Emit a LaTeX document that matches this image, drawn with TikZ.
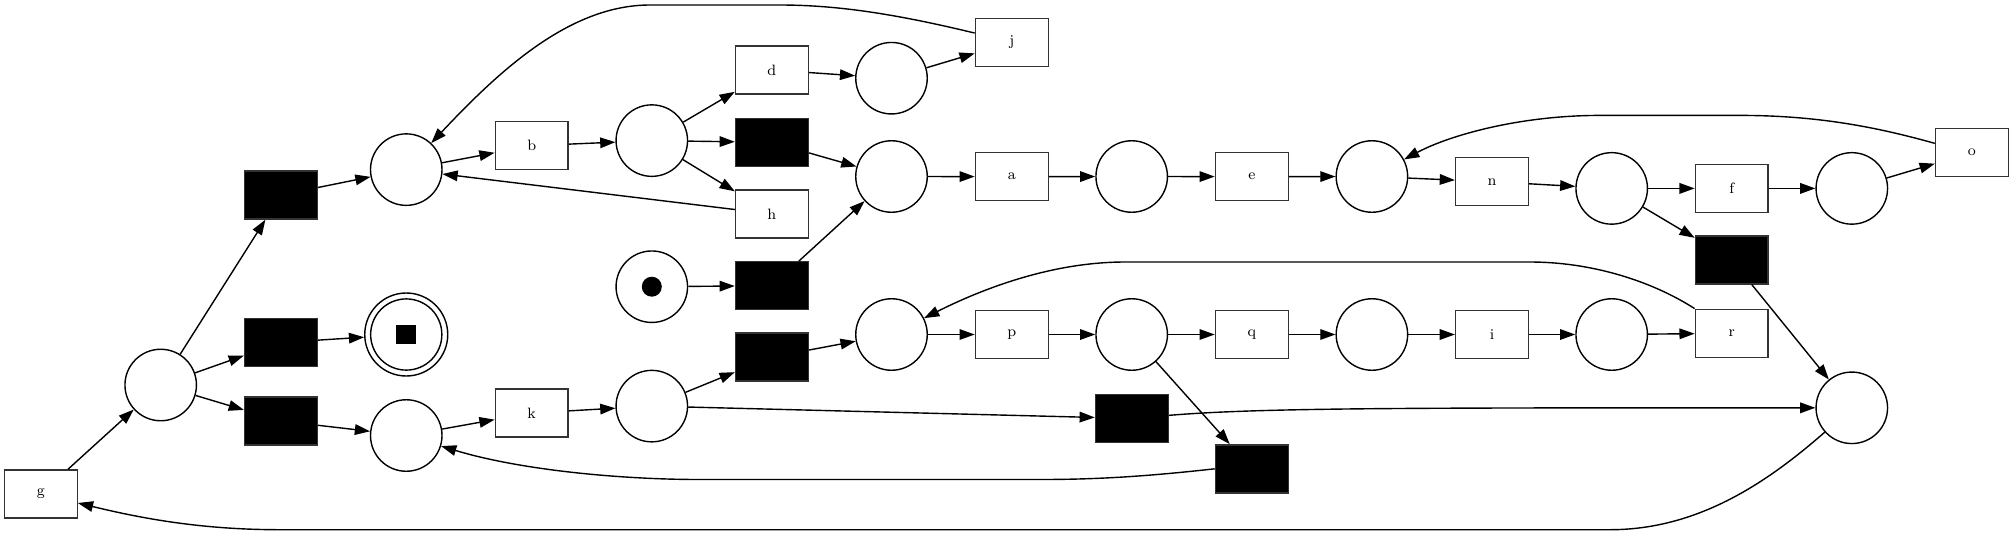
\documentclass[tikz,border=0pt]{standalone}
\usetikzlibrary{shapes.geometric,arrows.meta}
\begin{document}
\begin{tikzpicture}[x=0.5pt,y=-0.5pt,
  every node/.style={font=\fontsize{7.5}{9}\selectfont},
  place/.style={circle,draw,line width=0.7pt,minimum size=35.75pt,inner sep=0pt},
  finalplace/.style={circle,draw,line width=0.7pt,minimum size=41.5pt,inner sep=0pt},
  trans/.style={rectangle,draw=black!80,line width=0.7pt,minimum width=36.4pt,minimum height=24pt,inner sep=0pt},
  tau/.style={trans,fill=black},
  arc/.style={line width=0.7pt,-{Triangle[length=7.6pt,width=5.3pt]}}]
\useasboundingbox (0,0) rectangle (2013,537);
% nodes
\node[trans] (g) at (40.8,494) {g};
\node[place] (P0) at (160.7,385) {};
\node[tau] (t1) at (281,195) {};
\node[tau] (t2) at (281,342.5) {};
\node[tau] (t3) at (281,421) {};
\node[place] (Pb) at (406.25,169.6) {};
\node[finalplace] (Pend) at (406.25,334.5) {};
\draw[line width=0.7pt] (Pend.center) circle [radius=17.8pt];
\fill ([xshift=-4.9pt,yshift=-4.8pt]Pend.center) rectangle ([xshift=4.9pt,yshift=4.8pt]Pend.center);
\node[place] (Pk) at (406.25,435.5) {};
\node[trans] (b) at (531.7,145.7) {b};
\node[trans] (k) at (531.7,413) {k};
\node[place] (Pd) at (651.8,140.6) {};
\node[place] (Ptok) at (651.8,286.7) {};
\fill (Ptok.center) circle [radius=5pt];
\node[place] (Pkk) at (651.8,406.1) {};
\node[trans] (d) at (771.9,70) {d};
\node[tau] (t4) at (771.9,142.3) {};
\node[trans] (h) at (771.9,214) {h};
\node[tau] (t5) at (771.9,285.7) {};
\node[tau] (t6) at (771.9,357) {};
\node[place] (Pj) at (891.5,78.2) {};
\node[place] (Pa) at (891.5,176.5) {};
\node[place] (Pp) at (891.5,334.5) {};
\node[trans] (j) at (1011.8,42.3) {j};
\node[trans] (a) at (1011.8,176.6) {a};
\node[trans] (p) at (1011.8,334.5) {p};
\node[place] (Pae) at (1131.7,176.5) {};
\node[place] (Ppp) at (1131.7,334.5) {};
\node[tau] (t7) at (1131.9,418.4) {};
\node[trans] (e) at (1251.8,176.6) {e};
\node[trans] (q) at (1251.8,334.5) {q};
\node[tau] (t8) at (1251.8,468.8) {};
\node[place] (Pe) at (1371.9,176.5) {};
\node[place] (Pq) at (1371.9,334.5) {};
\node[trans] (n) at (1492,181.7) {n};
\node[trans] (i) at (1492,334.5) {i};
\node[place] (Pn) at (1611.7,188.4) {};
\node[place] (Pi) at (1611.7,334.5) {};
\node[trans] (f) at (1731.75,188.4) {f};
\node[tau] (t9) at (1731.75,259.9) {};
\node[trans] (r) at (1731.75,333.3) {r};
\node[place] (Pf) at (1851.8,188.4) {};
\node[place] (Pbig) at (1851.8,407.8) {};
\node[trans] (o) at (1971.9,152.6) {o};
% arcs
\draw[arc] (g) -- (P0);
\draw[arc] (P0) -- (t1);
\draw[arc] (P0) -- (t2);
\draw[arc] (P0) -- (t3);
\draw[arc] (t1) -- (Pb);
\draw[arc] (t2) -- (Pend);
\draw[arc] (t3) -- (Pk);
\draw[arc] (Pb) -- (b);
\draw[arc] (b) -- (Pd);
\draw[arc] (Pd) -- (d);
\draw[arc] (Pd) -- (t4);
\draw[arc] (Pd) -- (h);
\draw[arc] (h) -- (Pb);
\draw[arc] (d) -- (Pj);
\draw[arc] (Pj) -- (j);
\draw[arc] (j.166) .. controls (900,15) and (840,5) .. (780,5) -- (650,5) .. controls (570,5) and (500,70) .. (Pb);
\draw[arc] (t4) -- (Pa);
\draw[arc] (Ptok) -- (t5);
\draw[arc] (t5) -- (Pa);
\draw[arc] (Pa) -- (a);
\draw[arc] (a) -- (Pae);
\draw[arc] (Pae) -- (e);
\draw[arc] (e) -- (Pe);
\draw[arc] (Pe) -- (n);
\draw[arc] (n) -- (Pn);
\draw[arc] (Pn) -- (f);
\draw[arc] (f) -- (Pf);
\draw[arc] (Pf) -- (o);
\draw[arc] (o.166) .. controls (1880,128) and (1820,115.4) .. (1740,115.4) -- (1600,115.4) .. controls (1520,115.4) and (1450,135) .. (Pe);
\draw[arc] (Pn) -- (t9);
\draw[arc] (t9) -- (Pbig);
\draw[arc] (Pk) -- (k);
\draw[arc] (k) -- (Pkk);
\draw[arc] (Pkk) -- (t6);
\draw[arc] (t6) -- (Pp);
\draw[arc] (Pkk) -- (t7);
\draw[arc] (t7) .. controls (1260,407.8) and (1400,407.8) .. (Pbig);
\draw[arc] (Pp) -- (p);
\draw[arc] (p) -- (Ppp);
\draw[arc] (Ppp) -- (q);
\draw[arc] (q) -- (Pq);
\draw[arc] (Pq) -- (i);
\draw[arc] (i) -- (Pi);
\draw[arc] (Pi) -- (r);
\draw[arc] (r.north west) .. controls (1650,280) and (1590,262) .. (1530,262) -- (1125,262) .. controls (1050,262) and (980,290) .. (Pp);
\draw[arc] (Ppp) -- (t8);
\draw[arc] (t8.west) .. controls (1150,476) and (1100,479.5) .. (1040,479.5) -- (700,479.5) .. controls (620,479.5) and (520,470) .. (Pk);
\draw[arc] (Pbig.222) .. controls (1770,480) and (1700,529.7) .. (1610,529.7) -- (280,529.7) .. controls (200,529.7) and (140,518) .. (g);
\end{tikzpicture}
\end{document}
